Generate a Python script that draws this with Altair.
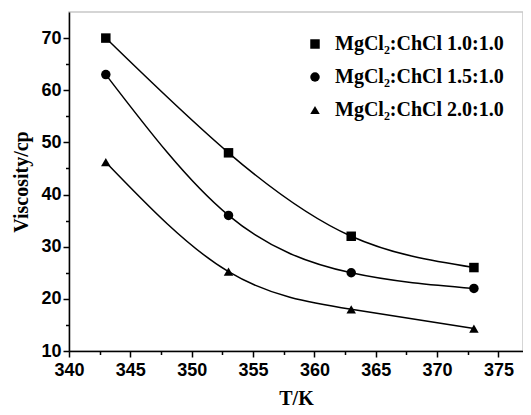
import altair as alt
import pandas as pd

temps = [343, 353, 363, 373]
series_names = ["MgCl₂:ChCl 1.0:1.0", "MgCl₂:ChCl 1.5:1.0", "MgCl₂:ChCl 2.0:1.0"]
visc_10 = [70, 48, 32, 26]
visc_15 = [63, 36, 25, 22]
visc_20 = [46.2, 25.2, 18, 14.3]
x_major = [340, 345, 350, 355, 360, 365, 370, 375]
x_minor = [342.5, 347.5, 352.5, 357.5, 362.5, 367.5, 372.5]
y_major = [10, 20, 30, 40, 50, 60, 70]
y_minor = [15, 25, 35, 45, 55, 65]

rows = []
for name, vals in zip(series_names, [visc_10, visc_15, visc_20]):
    for t, v in zip(temps, vals):
        rows.append({"T": t, "V": v, "S": name})
df = pd.DataFrame(rows)

xs = alt.Scale(domain=[340, 377], nice=False, zero=False)
ys = alt.Scale(domain=[10, 75], nice=False, zero=False)

axis_common = dict(
    labelFont="Liberation Sans", labelFontWeight="bold", labelFontSize=18,
    labelColor="black", titleFont="Liberation Serif", titleFontWeight="bold",
    titleFontSize=20, titleColor="black", domainColor="black", domainWidth=1.5,
    tickColor="black", tickWidth=1.5, tickSize=6, grid=False, zindex=2,
)

xaxis = alt.Axis(values=x_major, format="d", title="T/K", labelPadding=4,
                 titlePadding=9, labelFlush=False, **axis_common)
yaxis = alt.Axis(values=y_major, format="d", title="Viscosity/cp", labelPadding=2,
                 titlePadding=9, **axis_common)

lines = alt.Chart(df).mark_line(interpolate="natural", color="black", strokeWidth=1.5).encode(
    x=alt.X("T:Q", scale=xs, axis=xaxis),
    y=alt.Y("V:Q", scale=ys, axis=yaxis),
    detail="S:N",
)

points = alt.Chart(df).mark_point(filled=True, color="black", opacity=1).encode(
    x=alt.X("T:Q", scale=xs, axis=None),
    y=alt.Y("V:Q", scale=ys, axis=None),
    shape=alt.Shape("S:N", scale=alt.Scale(domain=series_names,
                                           range=["square", "circle", "triangle-up"]),
                    legend=alt.Legend(title=None, orient="none", legendX=236, legendY=22,
                                      labelFont="Liberation Serif", labelFontWeight="bold",
                                      labelFontSize=20, labelColor="black", labelLimit=300,
                                      symbolFillColor="black", symbolStrokeColor="black",
                                      symbolSize=90, symbolOpacity=1, rowPadding=13,
                                      labelOffset=10)),
    size=alt.value(90),
)

minor_x = alt.Chart(pd.DataFrame({"T": x_minor})).mark_point(opacity=0).encode(
    x=alt.X("T:Q", scale=xs, axis=alt.Axis(values=x_minor, labels=False, domain=False,
                                            title=None, tickSize=3.5, tickWidth=1.5,
                                            tickColor="black", grid=False, orient="bottom",
                                            zindex=2)),
)
minor_y = alt.Chart(pd.DataFrame({"V": y_minor})).mark_point(opacity=0).encode(
    y=alt.Y("V:Q", scale=ys, axis=alt.Axis(values=y_minor, labels=False, domain=False,
                                            title=None, tickSize=3.5, tickWidth=1.5,
                                            tickColor="black", grid=False, orient="left",
                                            zindex=2)),
)

chart = alt.layer(lines, points, minor_x, minor_y).resolve_axis(
    x="independent", y="independent"
).properties(
    width=454, height=339,
    autosize=alt.AutoSizeParams(type="none"),
    padding={"left": 61, "top": 4, "right": 0, "bottom": 56},
).configure_view(stroke="#c8c8c8", strokeWidth=1.5)

chart.save("out.html", embed_options={"renderer": "svg", "actions": False})
